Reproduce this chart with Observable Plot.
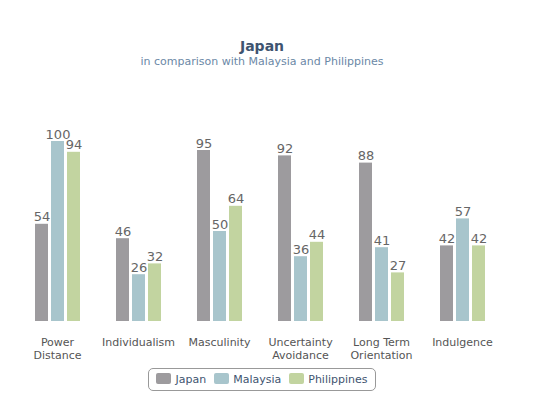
<!DOCTYPE html>
<html lang="en">
<head>
    <meta charset="UTF-8">
    <title>Japan</title>
    <script src="https://cdn.jsdelivr.net/npm/d3@7"></script>
    <script src="https://cdn.jsdelivr.net/npm/@observablehq/plot@0.6"></script>
    <style>
        body { margin: 0; background: #fff; font-family: "DejaVu Sans", sans-serif; }
        #wrap { width: 524px; }
        .title { padding-top: 38px; text-align: center; font-size: 14px; line-height: 17px; font-weight: bold; color: #3e5470; }
        .subtitle { text-align: center; font-size: 11px; line-height: 14px; color: #6b88a6; }
        #chart svg { display: block; }
        .legend-row { text-align: center; margin-top: 3px; }
        .legend { display: inline-flex; align-items: center; gap: 8px; border: 1px solid #999; border-radius: 5px; padding: 4px 7px; font-size: 11px; color: #3e5470; }
        .legend span.sw { display: inline-block; width: 15px; height: 11px; border-radius: 2px; margin-right: 4px; vertical-align: -1px; }
    </style>
</head>
<body>
    <div id="wrap">
        <div class="title">Japan</div>
        <div class="subtitle">in comparison with Malaysia and Philippines</div>
        <div id="chart"></div>
        <div class="legend-row"><div class="legend" id="legend"></div></div>
    </div>

    <script>
    // valeurs
    const dimensions = ["Power Distance", "Individualism", "Masculinity", "Uncertainty Avoidance", "Long Term Orientation", "Indulgence"];
    const tickLabels = ["Power\nDistance", "Individualism", "Masculinity", "Uncertainty\nAvoidance", "Long Term\nOrientation", "Indulgence"];
    const countries = ["Japan", "Malaysia", "Philippines"];
    const japan = [54, 46, 95, 92, 88, 42];
    const malaysia = [100, 26, 50, 36, 41, 57];
    const philippines = [94, 32, 64, 44, 27, 42];
    const colors = ["#9d9b9e", "#a8c5cc", "#c2d4a0"];

    const series = [japan, malaysia, philippines];
    const data = [];
    dimensions.forEach((d, i) => {
        countries.forEach((c, j) => {
            data.push({ dimension: d, country: c, value: series[j][i] });
        });
    });

    const div = document.querySelector("#chart");
    if (div) {
        const chart = Plot.plot({
            width: 524,
            height: 296,
            marginLeft: 17,
            marginRight: 22,
            marginTop: 72,
            marginBottom: 44,
            style: { fontFamily: "DejaVu Sans, sans-serif" },
            fx: { domain: dimensions, paddingInner: 0.435, paddingOuter: 0.2 },
            x: { domain: countries, paddingInner: 0.21, paddingOuter: 0, axis: null },
            y: { domain: [0, 100], axis: null },
            color: { domain: countries, range: colors },
            marks: [
                Plot.barY(data, { fx: "dimension", x: "country", y: "value", fill: "country" }),
                Plot.text(data, {
                    fx: "dimension", x: "country", y: "value", text: "value",
                    lineAnchor: "bottom", dy: -3, fontSize: 13, fill: "#666"
                }),
                Plot.axisFx({
                    anchor: "bottom",
                    tickSize: 0, tickPadding: 15, fontSize: 11, lineHeight: 1.2,
                    fill: "#555", label: null,
                    tickFormat: (d) => tickLabels[dimensions.indexOf(d)]
                })
            ]
        });
        div.append(chart);
    }

    const legend = document.querySelector("#legend");
    countries.forEach((c, j) => {
        const item = document.createElement("span");
        item.innerHTML = `<span class="sw" style="background:${colors[j]}"></span>${c}`;
        legend.append(item);
    });
    </script>
</body>
</html>
